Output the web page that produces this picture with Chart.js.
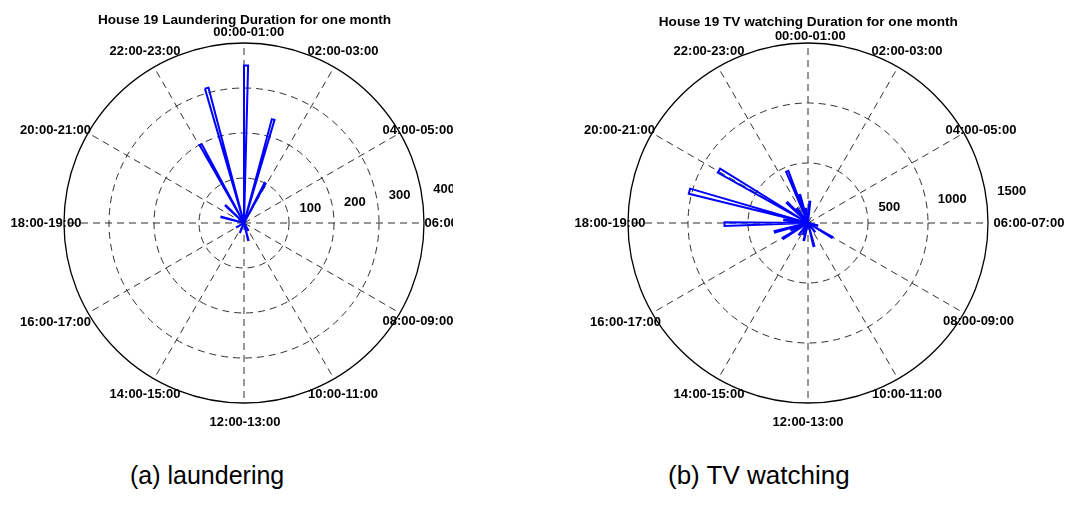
<!DOCTYPE html>
<html>
<head>
<meta charset="utf-8">
<script src="https://cdn.jsdelivr.net/npm/chart.js@4.4.1/dist/chart.umd.min.js"></script>
<style>
  html, body { margin: 0; padding: 0; background: #ffffff; }
  body { width: 1068px; height: 511px; position: relative; overflow: hidden; }
  canvas { position: absolute; top: 0; }
  #roseA { left: 0; }
  #roseB { left: 534px; }
  .caption { position: absolute; font-family: "Liberation Sans", Arial, sans-serif; color: #000; white-space: nowrap; }
</style>
</head>
<body>
<canvas id="roseA" width="453" height="440"></canvas>
<canvas id="roseB" width="534" height="440"></canvas>
<div class="caption" style="left:130px; top:461px; font-size:25px;">(a) laundering</div>
<div class="caption" style="left:668px; top:460px; font-size:26px;">(b) TV watching</div>
<script>
// Spoke labels, one every two hours, clockwise from the top
const spokeLabels = ['00:00-01:00', '02:00-03:00', '04:00-05:00', '06:00-07:00', '08:00-09:00', '10:00-11:00',
                     '12:00-13:00', '14:00-15:00', '16:00-17:00', '18:00-19:00', '20:00-21:00', '22:00-23:00'];

// Laundering: time of day (hour, bin centre) and total duration in that bin
const launderHours   = [0.05, 1.05, 1.86, 10.0, 11.07, 13.5, 16.0, 19.0, 20.9, 22.07, 22.97];
const launderMinutes = [350, 239, 100, 18, 39, 22, 18, 52, 56, 199, 311];
const launderTicks   = [100, 200, 300, 400];

// TV watching: time of day (hour, bin centre) and total duration in that bin
const tvHours   = [0.32, 7.0, 8.04, 9.5, 11.05, 12.9, 13.6, 14.5, 15.9, 16.5, 17.02, 17.95,
                   18.5, 19.0, 20.03, 20.95, 21.5, 22.54, 22.9, 23.5];
const tvMinutes = [178, 80, 234, 90, 198, 146, 100, 120, 243, 150, 286, 696,
                   200, 1023, 861, 242, 150, 464, 243, 120];
const tvTicks   = [500, 1000, 1500];

// Turn (hour, value) pairs into consecutive polar-area wedges: empty gaps + thin petals
function buildRose(hours, values, binDeg) {
  const items = hours.map((h, i) => ({ a: Math.max(0, h * 15 - binDeg / 2), v: values[i] }))
                     .sort((p, q) => p.a - q.a);
  const spans = [], vals = [];
  let cursor = 0;
  items.forEach(it => {
    const a = Math.max(it.a, cursor);
    if (a - cursor > 1e-6) { spans.push(a - cursor); vals.push(0); }
    spans.push(binDeg); vals.push(it.v);
    cursor = a + binDeg;
  });
  if (360 - cursor > 1e-6) { spans.push(360 - cursor); vals.push(0); }
  return { spans, vals };
}

const BLACK = '#000000';
const LABEL_FONT = 'bold 13px "Liberation Sans", Arial, sans-serif';

// Titles, spoke labels at 1.1 R and radial tick labels drawn from the r scale geometry
const roseText = {
  id: 'roseText',
  afterDraw(chart, args, o) {
    const s = chart.scales.r;
    const ctx = chart.ctx;
    ctx.save();
    ctx.fillStyle = BLACK;
    ctx.font = 'bold 13.6px "Liberation Sans", Arial, sans-serif';
    ctx.textAlign = 'center';
    ctx.textBaseline = 'alphabetic';
    ctx.fillText(o.title, s.xCenter + o.titleDx, o.titleBaseline);

    ctx.font = LABEL_FONT;
    ctx.textBaseline = 'middle';
    spokeLabels.forEach((lab, i) => {
      const p = s.getPointPosition(i, s.drawingArea * 1.1);
      const n = o.nudge[i] || [0, 0];
      ctx.fillText(lab, p.x + n[0], p.y + n[1]);
    });

    // radial tick values sit along the 82-degree direction (clockwise from the top)
    ctx.textAlign = 'left';
    const ang = (82 - 90) * Math.PI / 180;
    o.ticks.forEach(t => {
      const d = s.getDistanceFromCenterForValue(t);
      const x = s.xCenter + Math.cos(ang) * d;
      const y = s.yCenter + Math.sin(ang) * d;
      ctx.fillText(String(t), x + o.tickOffset[0], y + o.tickOffset[1]);
    });
    ctx.restore();
  }
};

function makeRose(id, hours, values, binDeg, ticks, pad, text) {
  const rose = buildRose(hours, values, binDeg);
  const rMax = ticks[ticks.length - 1];
  return new Chart(document.getElementById(id), {
    type: 'polarArea',
    data: {
      labels: spokeLabels,
      datasets: [{
        data: rose.vals,
        angle: rose.spans,
        backgroundColor: 'rgba(0,0,0,0)',
        borderColor: ctx => rose.vals[ctx.dataIndex] > 0 ? '#0000ff' : 'rgba(0,0,0,0)',
        borderWidth: ctx => rose.vals[ctx.dataIndex] > 0 ? 2 : 0,
        borderJoinStyle: 'miter',
        borderAlign: 'center'
      }]
    },
    options: {
      responsive: false,
      animation: false,
      events: [],
      layout: { padding: pad },
      plugins: { legend: { display: false }, tooltip: { enabled: false }, roseText: text },
      scales: {
        r: {
          type: 'radialLinear',
          min: 0,
          max: rMax,
          startAngle: 0,
          ticks: { display: false, stepSize: ticks[0] },
          pointLabels: { display: false },
          grid: {
            circular: true,
            color: ctx => ctx.tick && ctx.tick.value === rMax ? '#000000' : '#1a1a1a',
            lineWidth: ctx => ctx.tick && ctx.tick.value === rMax ? 1.3 : 0.9
          },
          border: {
            dash: ctx => ctx.tick && ctx.tick.value === rMax ? [] : [7, 5]
          },
          angleLines: { display: true, color: '#1a1a1a', lineWidth: 0.9, borderDash: [7, 5] }
        }
      }
    },
    plugins: [roseText]
  });
}

makeRose('roseA', launderHours, launderMinutes, 1.5, launderTicks,
  { left: 64, top: 43, right: 29, bottom: 37 },
  { title: 'House 19 Laundering Duration for one month', titleDx: 0.5, titleBaseline: 23.5,
    ticks: launderTicks, tickOffset: [11, -8.5],
    nudge: { 0: [4.7, 7.5], 2: [2.5, 6], 3: [18, 0], 4: [2.5, -1], 6: [1, 1.5], 8: [-17, 0], 10: [-17, 6] } });

makeRose('roseB', tvHours, tvMinutes, 2.5, tvTicks,
  { left: 94, top: 43, right: 80, bottom: 37 },
  { title: 'House 19 TV watching Duration for one month', titleDx: 0.3, titleBaseline: 26,
    ticks: tvTicks, tickOffset: [11, -7],
    nudge: { 0: [2.3, 11.2], 2: [1.5, 6], 3: [23, 0], 4: [-1, -1], 6: [0, 1.5], 8: [-11, 0], 10: [-17, 6] } });
</script>
</body>
</html>
